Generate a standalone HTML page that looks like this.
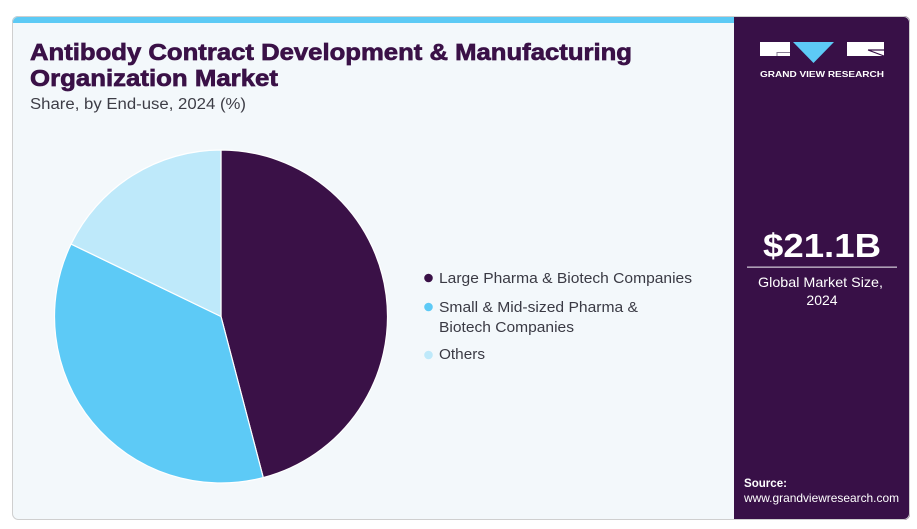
<!DOCTYPE html>
<html><head><meta charset="utf-8"><style>
html,body{margin:0;padding:0;background:#fff;}
svg{display:block;}
</style></head><body>
<svg width="917" height="529" viewBox="0 0 917 529" xmlns="http://www.w3.org/2000/svg">
  <defs>
    <clipPath id="card"><rect x="12" y="16" width="898" height="504" rx="6" ry="6"/></clipPath>
  </defs>
  <rect x="0" y="0" width="917" height="529" fill="#ffffff"/>
  <g clip-path="url(#card)">
    <rect x="12" y="16" width="898" height="504" fill="#f3f8fb"/>
    <rect x="12" y="16" width="722" height="7" fill="#5ccaf5"/>
    <rect x="734" y="16" width="176" height="504" fill="#381047"/>
  </g>
  <rect x="12.5" y="16.5" width="897" height="503" rx="6" ry="6" fill="none" stroke="#cfcfcf" stroke-width="1"/>

  <!-- Title -->
  <g font-family="Liberation Sans, Arial, sans-serif" font-weight="bold" fill="#3a1147" stroke="#3a1147" stroke-width="0.7">
    <text x="30" y="60" font-size="23.5" textLength="602" lengthAdjust="spacingAndGlyphs">Antibody Contract Development &amp; Manufacturing</text>
    <text x="30" y="86" font-size="23.5" textLength="248" lengthAdjust="spacingAndGlyphs">Organization Market</text>
  </g>
  <text x="30" y="109" font-family="Liberation Sans, Arial, sans-serif" font-size="15.5" fill="#3d3d46" textLength="216" lengthAdjust="spacingAndGlyphs">Share, by End-use, 2024 (%)</text>

  <!-- Pie -->
  <g stroke="#ffffff" stroke-width="1.2" stroke-linejoin="round">
    <path d="M221,316.5 L221,150 A166.5,166.5 0 0 1 263.26,477.55 Z" fill="#3a1147"/>
    <path d="M221,316.5 L263.26,477.55 A166.5,166.5 0 0 1 71.1,244.04 Z" fill="#5dcaf6"/>
    <path d="M221,316.5 L71.1,244.04 A166.5,166.5 0 0 1 221,150 Z" fill="#bee9fa"/>
  </g>

  <!-- Legend -->
  <g font-family="Liberation Sans, Arial, sans-serif" font-size="15" fill="#3a3a44">
    <circle cx="428.5" cy="278" r="4.3" fill="#3a1147"/>
    <text x="439" y="283" textLength="253" lengthAdjust="spacingAndGlyphs">Large Pharma &amp; Biotech Companies</text>
    <circle cx="428.5" cy="307" r="4.3" fill="#5dcaf6"/>
    <text x="439" y="312" textLength="199" lengthAdjust="spacingAndGlyphs">Small &amp; Mid-sized Pharma &amp;</text>
    <text x="439" y="332" textLength="135" lengthAdjust="spacingAndGlyphs">Biotech Companies</text>
    <circle cx="428.5" cy="355" r="4.3" fill="#bee9fa"/>
    <text x="439" y="359" textLength="46" lengthAdjust="spacingAndGlyphs">Others</text>
  </g>

  <!-- Logo -->
  <rect x="760" y="42" width="30" height="14" fill="#ffffff"/>
  <path d="M777,56 L777,52.5 L790,52.5" fill="none" stroke="#8a7f95" stroke-width="1"/>
  <polygon points="793,42 834,42 813.5,63" fill="#5dcaf6"/>
  <rect x="847" y="42" width="37" height="14" fill="#ffffff"/>
  <path d="M868,50 L884,50 M868,50 L884,56" fill="none" stroke="#381047" stroke-width="1.2"/>
  <text x="760" y="77" font-family="Liberation Sans, Arial, sans-serif" font-weight="bold" font-size="8.6" fill="#ffffff" textLength="124" lengthAdjust="spacingAndGlyphs">GRAND VIEW RESEARCH</text>

  <!-- Market size -->
  <text x="822" y="257" text-anchor="middle" font-family="Liberation Sans, Arial, sans-serif" font-weight="bold" font-size="33" fill="#ffffff" textLength="118" lengthAdjust="spacingAndGlyphs">$21.1B</text>
  <rect x="747" y="266.5" width="150" height="1.3" fill="#c9c0cf"/>
  <text x="820.5" y="287" text-anchor="middle" font-family="Liberation Sans, Arial, sans-serif" font-size="14" fill="#ffffff" textLength="125" lengthAdjust="spacingAndGlyphs">Global Market Size,</text>
  <text x="822" y="305" text-anchor="middle" font-family="Liberation Sans, Arial, sans-serif" font-size="14" fill="#ffffff">2024</text>

  <!-- Source -->
  <text x="744" y="487" font-family="Liberation Sans, Arial, sans-serif" font-weight="bold" font-size="12" fill="#ffffff" textLength="43" lengthAdjust="spacingAndGlyphs">Source:</text>
  <text x="744" y="502" font-family="Liberation Sans, Arial, sans-serif" font-size="12" fill="#ffffff" textLength="155" lengthAdjust="spacingAndGlyphs">www.grandviewresearch.com</text>
</svg>
</body></html>
